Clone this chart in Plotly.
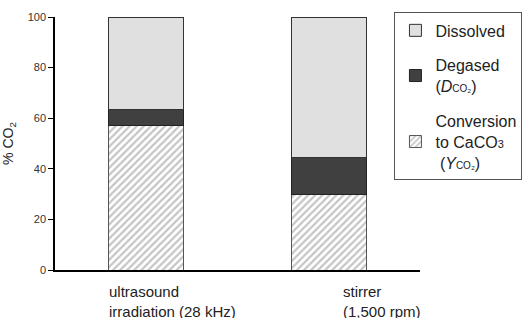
import plotly.graph_objects as go

categories = ["ultrasound irradiation (28 kHz)", "stirrer (1,500 rpm)"]
category_labels = ["ultrasound<br>irradiation (28 kHz)", "stirrer<br>(1,500 rpm)"]
label_shift = [-39, 12]
conversion = [57, 30]
degased = [6.4, 14.6]
dissolved = [36.6, 55.4]
y_ticks = [0, 20, 40, 60, 80, 100]

fig = go.Figure()
fig.add_trace(go.Bar(
    x=categories, y=conversion, legendgroup="c", legendrank=3,
    name="Conversion<br>to CaCO<span style='font-size:11px'>3</span><br> (<i>Y</i><span style='font-size:10px'>CO₂</span>)",
    marker=dict(color="white", line=dict(color="#555555", width=1),
                pattern=dict(shape="/", fgcolor="#8a8a8a", bgcolor="white", size=5, solidity=0.45)),
    width=0.41,
))
fig.add_trace(go.Bar(
    x=categories, y=degased, legendgroup="b", legendrank=2,
    name="Degased<br>(<i>D</i><span style='font-size:10px'>CO₂</span>)",
    marker=dict(color="#404040", line=dict(color="#222222", width=1)),
    width=0.41,
))
fig.add_trace(go.Bar(
    x=categories, y=dissolved, legendgroup="a", legendrank=1,
    name="Dissolved",
    marker=dict(color="#e0e0e0", line=dict(color="#333333", width=1)),
    width=0.41,
))

for cat, lab, sh in zip(categories, category_labels, label_shift):
    fig.add_annotation(
        x=cat, y=0, xref="x", yref="paper", yanchor="top", xanchor="left",
        xshift=sh, yshift=-11, text=lab, align="left", showarrow=False,
        font=dict(size=15, color="#222222"),
    )

fig.update_layout(
    width=528, height=318,
    margin=dict(l=55, r=108, t=17, b=48, autoexpand=False),
    barmode="stack",
    plot_bgcolor="white", paper_bgcolor="white",
    font=dict(family="Arial, Liberation Sans, sans-serif", color="#222222"),
    legend=dict(
        x=0.93, y=1.018, xanchor="left", yanchor="top",
        traceorder="grouped", tracegroupgap=11, maxheight=300,
        bgcolor="white", bordercolor="#555555", borderwidth=1,
        font=dict(size=16, color="#222222"),
        itemwidth=30,
    ),
    showlegend=True,
)
fig.update_xaxes(
    showline=True, linecolor="black", linewidth=2,
    showticklabels=False, ticks="", range=[-0.5, 1.5], automargin=False,
)
fig.update_yaxes(
    range=[0, 100], tickvals=y_ticks,
    showline=True, linecolor="black", linewidth=1.5,
    ticks="outside", ticklen=5, tickcolor="black",
    showgrid=False, zeroline=False, automargin=False,
    tickfont=dict(size=11, color="#333333"),
    title=dict(text="% CO<sub>2</sub>", font=dict(size=14, color="#222222"), standoff=12),
)

fig.write_html("out.html", config={"displayModeBar": False},
               post_script="document.body.style.margin='0';")
